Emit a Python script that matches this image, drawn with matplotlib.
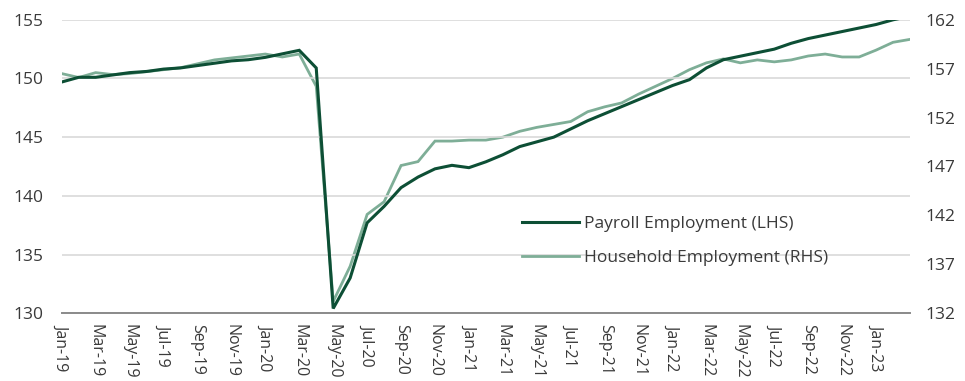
import numpy as np
import pandas as pd
import matplotlib
matplotlib.use("Agg")
import matplotlib.pyplot as plt

plt.rcParams['font.family'] = ['Open Sans', 'DejaVu Sans']

# Monthly series, Jan-2019 .. Mar-2023 (millions)
months = pd.date_range("2019-01-01", "2023-03-01", freq="MS").strftime("%b-%y").tolist()

payroll = [149.7, 150.1, 150.1, 150.3, 150.5, 150.6, 150.8, 150.9, 151.1, 151.3,
           151.5, 151.6, 151.8, 152.1, 152.4, 150.9, 130.4, 133.0, 137.7, 139.1,
           140.7, 141.6, 142.3, 142.6, 142.4, 142.9, 143.5, 144.2, 144.6, 145.0,
           145.7, 146.4, 147.0, 147.6, 148.2, 148.8, 149.4, 149.9, 150.9, 151.6,
           151.9, 152.2, 152.5, 153.0, 153.4, 153.7, 154.0, 154.3, 154.6, 155.0,
           155.3]

household = [156.5, 156.1, 156.6, 156.4, 156.5, 156.7, 156.9, 157.1, 157.5, 157.9,
             158.1, 158.3, 158.5, 158.2, 158.5, 155.2, 133.2, 136.8, 142.1, 143.4,
             147.1, 147.5, 149.6, 149.6, 149.7, 149.7, 150.0, 150.6, 151.0, 151.3,
             151.6, 152.6, 153.1, 153.5, 154.4, 155.2, 156.0, 156.9, 157.6, 158.0,
             157.6, 157.9, 157.7, 157.9, 158.3, 158.5, 158.2, 158.2, 158.9, 159.7,
             160.0]

left_ticks = [130, 135, 140, 145, 150, 155]
right_ticks = [132, 137, 142, 147, 152, 157, 162]

DARK = '#0d4f35'
LIGHT = '#7eae97'
TXT = '#3a3a3a'

x = np.arange(len(months))

fig = plt.figure(figsize=(9.65, 3.81), dpi=100)
ax = fig.add_axes([0.064, 0.178, 0.879, 0.770])
ax2 = ax.twinx()

ln2, = ax2.plot(x, household, color=LIGHT, lw=2.0, solid_joinstyle='miter',
                label='Household Employment (RHS)')
ln1, = ax.plot(x, payroll, color=DARK, lw=2.2, solid_joinstyle='miter',
               label='Payroll Employment (LHS)')

# payroll axis on top of the household axis
ax.set_zorder(ax2.get_zorder() + 1)
ax.patch.set_visible(False)

ax.set_xlim(0, len(months) - 1)
ax.set_ylim(130, 155)
ax2.set_ylim(132, 162)
ax.set_yticks(left_ticks)
ax2.set_yticks(right_ticks)

# every second month labelled, last label at Jan-23
tick_idx = x[:len(months) - 2:2]
ax.set_xticks(tick_idx)
ax.set_xticklabels([months[i] for i in tick_idx], rotation=270, ha='center', va='top')

ax.grid(axis='y', color='#d9d9d9', lw=1.2)
ax.set_axisbelow(True)

for a in (ax, ax2):
    for s in ('top', 'left', 'right', 'bottom'):
        a.spines[s].set_visible(False)
ax.spines['bottom'].set_visible(True)
ax.spines['bottom'].set_color('#8a8a8a')
ax.spines['bottom'].set_linewidth(1.4)

ax.tick_params(axis='x', length=0, pad=8, labelsize=11.5, colors=TXT)
ax.tick_params(axis='y', length=0, pad=13, labelsize=12.5, colors=TXT)
ax2.tick_params(axis='y', length=0, pad=11, labelsize=12.5, colors=TXT)

leg = ax.legend(handles=[ln1, ln2], loc='upper left',
                bbox_to_anchor=(0.541, 0.433), bbox_transform=fig.transFigure,
                frameon=False, fontsize=12.5, handlelength=3.3,
                handletextpad=0.25, labelspacing=1.0, borderpad=0,
                borderaxespad=0)
for t in leg.get_texts():
    t.set_color(TXT)

fig.savefig('out.png', dpi=100)
